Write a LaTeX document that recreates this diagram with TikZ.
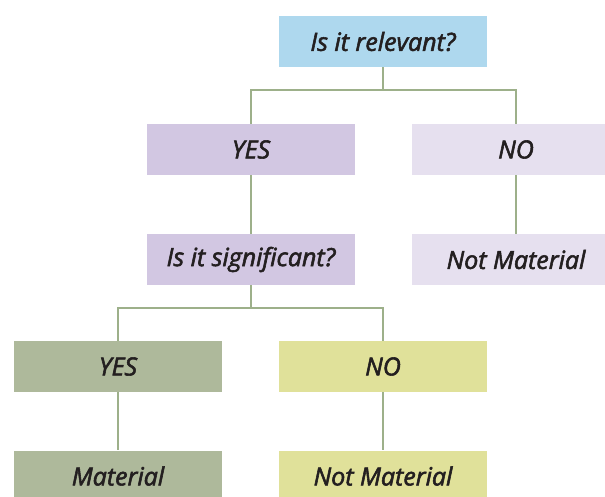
\documentclass[tikz,border=0pt]{standalone}
\usepackage{fontspec}
\setmainfont{Open Sans}
\newfontfamily\boxfont{Open Sans}[UprightFont=*-Italic, FakeBold=2.2]
\definecolor{relblue}{HTML}{AED8EE}
\definecolor{lav}{HTML}{D2C7E2}
\definecolor{lavlight}{HTML}{E6E0EF}
\definecolor{sage}{HTML}{AEB99B}
\definecolor{lime}{HTML}{E0E19A}
\definecolor{link}{HTML}{9DB08A}
\definecolor{ink}{HTML}{231F20}
\begin{document}
\begin{tikzpicture}[x=1pt,y=-1pt]

        \useasboundingbox (0,0) rectangle (605,496);
        \clip (0,0) rectangle (605,496);

        \begin{scope}[every node/.style={rectangle, minimum width=208pt, minimum height=51pt,
            inner sep=0pt, text=ink, font=\boxfont\fontsize{25}{29}\selectfont}]
          \node[fill=relblue]  (1) at (383,41.5)  {Is it relevant?};
          \node[fill=lav]      (2) at (251,149.5) {YES};
          \node[fill=lavlight] (3) at (516,149.5) {NO};
          \node[fill=lav]      (4) at (251,259.5) {Is it significant?};
          \node[fill=lavlight] (5) at (516,259.5) {Not Material};
          \node[fill=sage]     (6) at (118,366.5) {YES};
          \node[fill=lime]     (7) at (383,366.5) {NO};
          \node[fill=sage]     (8) at (118,476)   {Material};
          \node[fill=lime]     (9) at (383,476)   {Not Material};
        \end{scope}

        \begin{scope}[every path/.style={draw=link, line width=1.5pt}]
          \path (1.south) -- (1.south |- 0,90) -| (2.north);
          \path (1.south |- 0,90) -| (3.north);
          \path (2) -- (4);
          \path (3) -- (5);
          \path (4.south) -- (4.south |- 0,308) -| (6.north);
          \path (4.south |- 0,308) -| (7.north);
          \path (6) -- (8);
          \path (7) -- (9);
        \end{scope}

      \end{tikzpicture}
\end{document}
